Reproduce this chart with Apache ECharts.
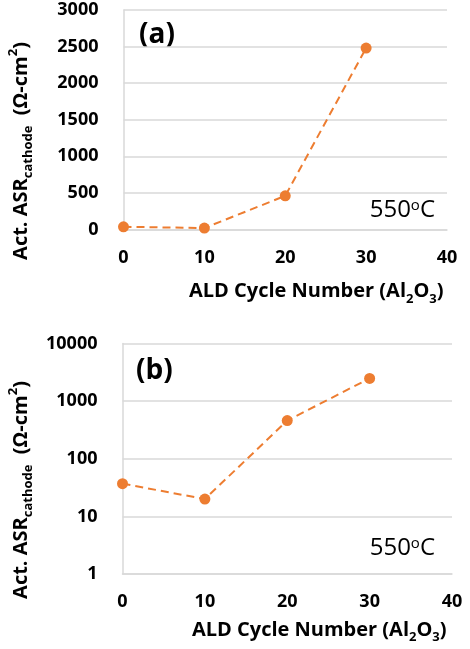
<!DOCTYPE html>
<html><head><meta charset="utf-8">
<script src="https://cdn.jsdelivr.net/npm/echarts@6/dist/echarts.min.js"></script>
<style>html,body{margin:0;padding:0;background:#fff}#c{width:470px;height:649px}</style>
</head><body><div id="c"></div>
<script>
const cycles = [0, 10, 20, 30];
const asr = [37, 20, 460, 2480];
const linearTicks = [0, 500, 1000, 1500, 2000, 2500, 3000];
const logTicks = [1, 10, 100, 1000, 10000];
const xTicks = [0, 10, 20, 30, 40];
const panelLabels = ['(a)', '(b)'];
const tempLabel = '550';

const FONT = '"Open Sans", "Noto Sans", sans-serif';
const ORANGE = '#ED7D31';
const GRID = '#d9d9d9';
const pts = cycles.map((c, i) => [c, asr[i]]);

const axisLabel = { fontFamily: FONT, fontWeight: 'bold', fontSize: 18, color: '#000' };
const richName = {
  n: { fontFamily: FONT, fontWeight: 'bold', fontSize: 20, color: '#000', lineHeight: 28, verticalAlign: 'middle' },
  sub: { fontFamily: FONT, fontWeight: 'bold', fontSize: 13, color: '#000', lineHeight: 18, verticalAlign: 'bottom' },
  sup: { fontFamily: FONT, fontWeight: 'bold', fontSize: 13, color: '#000', lineHeight: 16, verticalAlign: 'top' }
};
const yName = '{n|Act. ASR}{sub|cathode}{n|  (Ω-cm}{sup|2}{n|)}';
const xName = '{n|ALD Cycle Number (Al}{sub|2}{n|O}{sub|3}{n|)}';

function xAxis(gi, pad, gap) {
  return {
    type: 'value', gridIndex: gi, min: xTicks[0], max: xTicks[xTicks.length - 1], interval: 10,
    axisLine: { show: true, onZero: false, lineStyle: { color: GRID, width: 1.5 } },
    axisTick: { show: false }, splitLine: { show: false },
    axisLabel: Object.assign({ margin: 19, formatter: v => String(v) }, axisLabel),
    name: xName, nameLocation: 'middle', nameGap: gap,
    nameTextStyle: { rich: richName, padding: [0, 0, 0, pad] }
  };
}
function yBase(gi) {
  return {
    gridIndex: gi,
    axisLine: { show: true, lineStyle: { color: GRID, width: 1.5 } },
    axisTick: { show: false },
    splitLine: { show: true, lineStyle: { color: GRID, width: 1.5 } },
    axisLabel: Object.assign({ margin: 25, formatter: v => String(v) }, axisLabel)
  };
}

const chart = echarts.init(document.getElementById('c'), null, { renderer: 'canvas' });
const tempText = (top) => ({
  type: 'text', right: 35, top: top,
  style: {
    text: '{n|' + tempLabel + '}{s|o}{n|C}',
    rich: {
      n: { fontFamily: FONT, fontSize: 24, color: '#000', lineHeight: 30, verticalAlign: 'middle' },
      s: { fontFamily: FONT, fontSize: 15, color: '#000', lineHeight: 30, verticalAlign: 'top', padding: [3, 0, 0, 0] }
    }
  }
});
const yTitle = (cy) => ({
  type: 'text', x: 21, y: cy, rotation: Math.PI / 2,
  style: { text: yName, rich: richName, align: 'center', verticalAlign: 'middle' }
});
chart.setOption({
  animation: false,
  backgroundColor: '#fff',
  grid: [
    { left: 123.5, right: 23, top: 10, height: 219.5, containLabel: false, outerBoundsMode: 'none' },
    { left: 122.5, right: 18, top: 343.5, height: 230.5, containLabel: false, outerBoundsMode: 'none' }
  ],
  xAxis: [xAxis(0, 62, 48), xAxis(1, 64, 42)],
  yAxis: [
    Object.assign(yBase(0), { type: 'value', min: linearTicks[0], max: linearTicks[linearTicks.length - 1], interval: 500 }),
    Object.assign(yBase(1), { type: 'log', logBase: 10, min: logTicks[0], max: logTicks[logTicks.length - 1] })
  ],
  series: [0, 1].map(i => ({
    type: 'line', xAxisIndex: i, yAxisIndex: i, data: pts,
    symbol: 'circle', symbolSize: 11,
    itemStyle: { color: ORANGE },
    lineStyle: { color: ORANGE, width: 2, type: [8, 5] }
  })),
  graphic: [
    { type: 'text', left: 139, top: 21, style: { text: panelLabels[0], fontFamily: FONT, fontWeight: 'bold', fontSize: 28, fill: '#000' } },
    { type: 'text', left: 136, top: 357, style: { text: panelLabels[1], fontFamily: FONT, fontWeight: 'bold', fontSize: 28, fill: '#000' } },
    tempText(195),
    tempText(533),
    yTitle(151),
    yTitle(490)
  ]
});
</script></body></html>
